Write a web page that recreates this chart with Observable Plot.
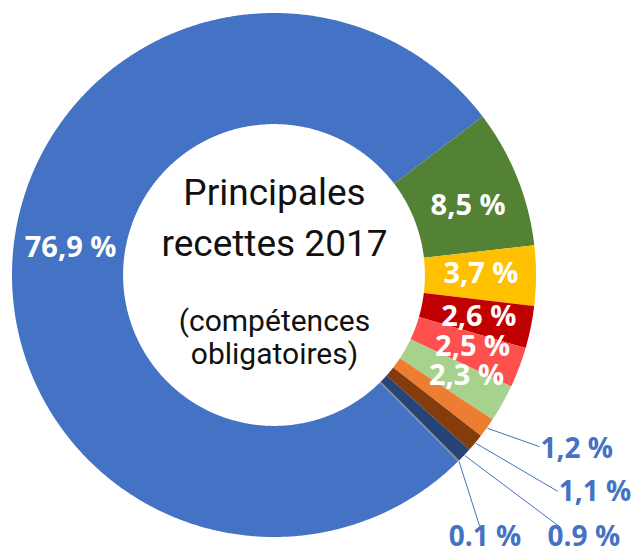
<!DOCTYPE html>
<html><head><meta charset="utf-8">
<script src="https://cdn.jsdelivr.net/npm/d3@7"></script>
<script src="https://cdn.jsdelivr.net/npm/@observablehq/plot@0.6"></script>
<style>body{margin:0;background:#fff}#chart svg{display:block}</style>
</head><body><div id="chart"></div>
<script>
// ---- data ----
const slices = ["S1","S2","S3","S4","S5","S6","S7","S8","S9","S10"];
const values = [76.9, 8.5, 3.7, 2.6, 2.5, 2.3, 1.2, 1.1, 0.9, 0.1];
const valueLabels = ["76,9 %","8,5 %","3,7 %","2,6 %","2,5 %","2,3 %","1,2 %","1,1 %","0.9 %","0.1 %"];
const colors = ["#4472C4","#548235","#FFC000","#C00000","#FF5050","#A9D18E","#ED7D31","#843C0C","#264478","#7F7F7F"];
const titleLines = ["Principales","recettes 2017"];
const subtitleLines = ["(compétences","obligatoires)"];

// ---- layout (styling, not data) ----
const W = 634, H = 553;
const cxPx = 274, cyPx = 275, rPx = 262;   // pie centre & outer radius in pixels
const innerRatio = 0.576;
const startDeg = 135.4;                     // first slice start, clockwise from 12 o'clock
const insideIdx = [0,1,2,3,4,5];
const insideNudge = {0:[2,-13],1:[2,7],2:[0,-2],3:[2,0],4:[5,-2],5:[12,-1]}; // px
const callouts = {6:{shift:-2.8,r:1.204,off:[1,2]},7:{shift:-2.5,r:1.359,off:[1,1]},
                  8:{shift:-2.05,r:1.455,off:[-13,10]},9:{shift:5.5,r:1.237,off:[-31,11]}};
const labelFont = "Open Sans";
const titleFont = "Roboto";

const u = 1 / rPx;
const xDomain = [-cxPx * u, (W - cxPx) * u];
const yDomain = [-(H - cyPx) * u, cyPx * u];

const pie = d3.pie().sort(null).value(d => d)
  .startAngle(startDeg * Math.PI / 180).endAngle(startDeg * Math.PI / 180 + 2 * Math.PI)(values);

const pol = (a, r) => [r * Math.sin(a), r * Math.cos(a)];

const rows = [];
pie.forEach((p, i) => {
  const n = Math.max(2, Math.ceil((p.endAngle - p.startAngle) / (0.4 * Math.PI / 180)) + 1);
  for (let k = 0; k < n; k++) {
    const a = p.startAngle + (p.endAngle - p.startAngle) * k / (n - 1);
    const [xi, yi] = pol(a, innerRatio);
    const [xo, yo] = pol(a, 1);
    rows.push({key: slices[i], x1: xi, y1: yi, x2: xo, y2: yo});
  }
});

const midR = (1 + innerRatio) / 2;
const inside = insideIdx.map(i => {
  const p = pie[i], a = (p.startAngle + p.endAngle) / 2;
  const [x, y] = pol(a, midR);
  const nd = insideNudge[i] || [0, 0];
  return {x: x + nd[0] * u, y: y - nd[1] * u, text: valueLabels[i]};
});

const outside = Object.keys(callouts).map(k => {
  const i = +k, p = pie[i], c = callouts[k];
  const a = (p.startAngle + p.endAngle) / 2;
  const [x1, y1] = pol(a, 1);
  const [x2, y2] = pol(a + c.shift * Math.PI / 180, c.r);
  return {x1, y1, x2, y2, tx: x2 + c.off[0] * u, ty: y2 - c.off[1] * u, text: valueLabels[i]};
});

const chart = Plot.plot({
  width: W, height: H, margin: 0,
  x: {domain: xDomain, axis: null},
  y: {domain: yDomain, axis: null},
  color: {domain: slices, range: colors},
  style: {background: "white"},
  marks: [
    Plot.area(rows, {x1: "x1", y1: "y1", x2: "x2", y2: "y2", z: "key", fill: "key", curve: "linear"}),
    Plot.text(inside, {x: "x", y: "y", text: "text", fill: "white", fontSize: 29, fontWeight: "bold", fontFamily: labelFont}),
    Plot.link(outside, {x1: "x1", y1: "y1", x2: "x2", y2: "y2", stroke: "#4472C4", strokeWidth: 1}),
    Plot.text(outside, {x: "tx", y: "ty", text: "text", textAnchor: "start", fill: "#4472C4", fontSize: 28, fontWeight: "bold", fontFamily: labelFont}),
    Plot.text([titleLines.join("\n")], {x: 0, y: 0, text: d => d, dy: -61, lineHeight: 1.38, fontSize: 37, fontFamily: titleFont, fill: "#111"}),
    Plot.text([subtitleLines.join("\n")], {x: 0, y: 0, text: d => d, dy: 61, lineHeight: 1.1, fontSize: 30, fontFamily: titleFont, fill: "#111"})
  ]
});
document.getElementById("chart").append(chart);
</script>
</body></html>
